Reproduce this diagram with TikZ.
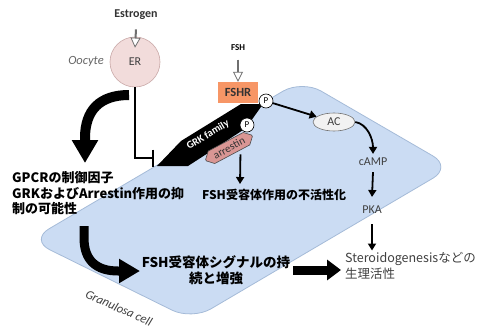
\documentclass[tikz,border=0pt]{standalone}
\usepackage{fontspec}
\setmainfont{Carlito}
\newfontfamily\jp{Noto Sans CJK JP}
\usetikzlibrary{arrows.meta,shapes.misc,shapes.geometric}
\definecolor{cellfill}{HTML}{CBDCF3}
\definecolor{celldraw}{HTML}{A5BBD8}
\definecolor{erfill}{HTML}{F2DCDB}
\definecolor{erdraw}{HTML}{C9A8A7}
\definecolor{fshrfill}{RGB}{247,150,102}
\definecolor{arrfill}{HTML}{D99694}
\definecolor{acfill}{HTML}{F2F2F2}
\definecolor{txtgray}{HTML}{404040}
\definecolor{hollowgray}{HTML}{6F6F6F}
\begin{document}
\begin{tikzpicture}[x=1pt,y=-1pt,
  lbl/.style={font=\fontsize{12}{14}\selectfont, text=txtgray, inner sep=0pt},
  jpbold/.style={font=\jp\bfseries\fontsize{13}{15.5}\selectfont, inner sep=0pt},
  hollow/.style={draw=hollowgray, line width=2pt, -{Triangle[open, length=10pt, width=10pt, line width=0.8pt, fill=white]}},
  sig/.style={draw=black, line width=1.8pt, -{Triangle[length=7pt, width=8pt]}},
  bigarrow/.style={draw=black, line width=10pt, -{Triangle[length=23pt, width=25pt]}},
  midarrow/.style={draw=black, line width=9pt, -{Triangle[length=21pt, width=23pt]}},
  smallbig/.style={draw=black, line width=9pt, -{Triangle[length=14pt, width=20pt]}},
  pstyle/.style={circle, draw=black, fill=white, line width=0.6pt, minimum size=14pt, inner sep=0pt, font=\fontsize{9}{10}\selectfont}
]
\fill[white] (0,0) rectangle (477,332);
\path[use as bounding box] (0,0) rectangle (477,332);

% granulosa cell
\path[draw=celldraw, fill=cellfill, line width=0.8pt, rounded corners=22pt]
  (302,80) -- (452,167) -- (192,320) -- (30,240) -- cycle;
\node[rotate=-24, font=\itshape\fontsize{12.5}{14}\selectfont, text=txtgray] (gcell) at (119,308) {Granulosa cell};

% oocyte side
\node[font=\bfseries\fontsize{12}{14}\selectfont, text=black!80] (estrogen) at (136,15) {Estrogen};
\node[circle, fill=erfill, draw=erdraw, line width=0.6pt, minimum size=50pt, inner sep=0pt, lbl] (er) at (135,62) {ER};
\node[font=\itshape\fontsize{12.5}{14}\selectfont, text=black!60] (oocyte) at (86,61) {Oocyte};
\draw[hollow] ([yshift=-6pt]estrogen.south) -- ([yshift=-11pt]er.north);

% thick arrows
\coordinate (a1s) at (129,95);
\coordinate (a1e) at (85,163);
\draw[bigarrow] (a1s) .. controls (100,95) and (85,110) .. (85,138) -- (a1e);
\coordinate (a2s) at (84,226);
\coordinate (a2e) at (140,271);
\draw[midarrow] (a2s) -- (84,238) .. controls (84,260) and (96,271) .. (118,271) -- (a2e);
\coordinate (a3s) at (293,270);
\coordinate (a3e) at (341,270);
\draw[smallbig] (a3s) -- (a3e);

% inhibition
\coordinate (inhib) at (154,158);
\draw[line width=2pt, -{Bar[width=17pt, line width=2.2pt]}] (er.south) |- (inhib);

% texts
\node[jpbold, align=left, anchor=north west] (gpcr) at (12,171.5) {GPCRの制御因子\\GRKおよびArrestin作用の抑\\制の可能性};
\node[font=\jp\bfseries\fontsize{13.5}{16.5}\selectfont, inner sep=0pt, align=center, anchor=north] (fshsig) at (216,255) {FSH受容体シグナルの持\\続と増強};
\node[font=\jp\bfseries\fontsize{12}{14}\selectfont, inner sep=0pt, anchor=west] (inact) at (202,195) {FSH受容体作用の不活性化};
\node[font=\jp\fontsize{12.5}{16}\selectfont, text=txtgray, align=left, inner sep=0pt, anchor=north west] (stero) at (345,252.5) {Steroidogenesisなどの\\生理活性};

% receptor complex
\fill[black] (157,166) -- (181,141) -- (241,104) -- (263,104) -- (246,128) -- (205,155) -- (188,166) -- cycle;
\node[rotate=31, text=white, font=\bfseries\fontsize{10.5}{12}\selectfont] (grk) at (208,135) {GRK family};
\node[chamfered rectangle, chamfered rectangle xsep=3pt, minimum width=52pt, minimum height=14pt, inner sep=0pt, rotate=28, fill=arrfill, draw=black!70, line width=0.6pt, font=\fontsize{11}{12}\selectfont, text=black!80] (arr) at (229,148) {arrestin};
\node[pstyle] (p2) at (247,125) {P};
\node[font=\bfseries\fontsize{9}{10}\selectfont] (fshlbl) at (238,48) {FSH};
\node[fill=fshrfill, minimum width=40pt, minimum height=21pt, inner sep=0pt, font=\bfseries\fontsize{12.5}{14}\selectfont, text=black!80] (fshr) at (238,92.5) {FSHR};
\node[pstyle] (p1) at (266,101) {P};
\draw[hollow] ([yshift=-5pt]fshlbl.south) -- (fshr.north);

% signalling
\node[ellipse, fill=acfill, draw=black!55, line width=0.6pt, minimum width=42pt, minimum height=18pt, lbl] (ac) at (334,122) {AC};
\node[lbl] (camp) at (373,162) {cAMP};
\node[lbl] (pka) at (372,210) {PKA};
\draw[sig] (p1) -- (ac);
\draw[sig] (ac.east) .. controls +(12,2) and +(0,-15) .. ([yshift=4pt]camp.north);
\draw[sig] ([yshift=-6pt]camp.south) -- ([yshift=9pt]pka.north);
\draw[sig] ([yshift=-10pt]pka.south) -- ([xshift=27pt,yshift=2pt]stero.north west);
\draw[sig] ([xshift=8pt]arr.south) -- ([xshift=38pt,yshift=5pt]inact.north west);
\end{tikzpicture}
\end{document}
